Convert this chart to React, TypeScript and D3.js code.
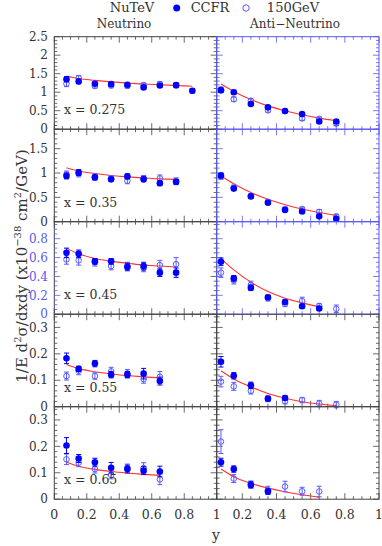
import * as d3 from 'd3';

// y bin centres (x axis of every panel)
const yBins = [0.075, 0.15, 0.25, 0.35, 0.45, 0.55, 0.65, 0.75, 0.85];
const xLabels = ['x = 0.275', 'x = 0.35', 'x = 0.45', 'x = 0.55', 'x = 0.65'];
const yMaxes = [2.5, 1.9, 0.98, 0.35, 0.35];
const yMajor = [0.5, 0.5, 0.2, 0.1, 0.1];
const yMinor = [0.1, 0.1, 0.05, 0.02, 0.02];
const xTickLabelsLeft = [0, 0.2, 0.4, 0.6, 0.8, 1];
const xTickLabelsRight = [0.2, 0.4, 0.6, 0.8, 1];

// neutrino: NuTeV (filled), CCFR 150GeV (open), fit (red)
const nuNutev = [
  [1.35, 1.29, 1.23, 1.22, 1.2, 1.13, 1.18, 1.19, 1.04],
  [0.94, 1.01, 0.91, 0.87, 0.93, 0.87, 0.79, 0.82],
  [0.65, 0.64, 0.56, 0.56, 0.5, 0.51, 0.44, 0.44],
  [0.183, 0.143, 0.163, 0.121, 0.121, 0.125, 0.097],
  [0.203, 0.154, 0.14, 0.119, 0.114, 0.108, 0.105],
];
const nuNutevErr = [
  [0.07, 0.06, 0.05, 0.05, 0.05, 0.05, 0.05, 0.05, 0.06],
  [0.06, 0.06, 0.05, 0.04, 0.05, 0.05, 0.05, 0.05],
  [0.05, 0.04, 0.03, 0.03, 0.04, 0.04, 0.04, 0.05],
  [0.02, 0.01, 0.012, 0.012, 0.012, 0.02, 0.015],
  [0.03, 0.015, 0.015, 0.02, 0.015, 0.015, 0.02],
];
const nuCcfr = [
  [1.23, 1.38, 1.17, 1.18, 1.17, 1.19, 1.22, 1.19],
  [0.97, 0.99, 0.92, 0.89, 0.84, 0.89, 0.89, 0.83],
  [0.58, 0.57, 0.55, 0.51, 0.51, 0.49, 0.52, 0.53],
  [0.116, 0.136, 0.116, 0.134, 0.126, 0.104, 0.113],
  [0.151, 0.138, 0.114, 0.092, 0.118, 0.118, 0.075],
];
const nuCcfrErr = [
  [0.08, 0.07, 0.06, 0.06, 0.06, 0.06, 0.07, 0.07],
  [0.07, 0.07, 0.06, 0.05, 0.06, 0.06, 0.07, 0.07],
  [0.05, 0.05, 0.04, 0.04, 0.04, 0.04, 0.05, 0.07],
  [0.015, 0.015, 0.012, 0.015, 0.015, 0.015, 0.02],
  [0.02, 0.015, 0.015, 0.015, 0.015, 0.02, 0.02],
];
const nuFit = [
  [1.44, 1.37, 1.32, 1.28, 1.25, 1.22, 1.2, 1.18, 1.16],
  [1.11, 1.04, 0.99, 0.95, 0.92, 0.9, 0.88, 0.87],
  [0.7, 0.64, 0.59, 0.56, 0.54, 0.52, 0.51, 0.5],
  [0.16, 0.144, 0.132, 0.124, 0.118, 0.113, 0.109],
  [0.14, 0.125, 0.113, 0.105, 0.099, 0.094, 0.09],
];

// anti-neutrino
const nubNutev = [
  [1.05, 1.0, 0.68, 0.59, 0.49, 0.41, 0.21, 0.21],
  [0.95, 0.68, 0.52, 0.39, 0.24, 0.21, 0.11, 0.06],
  [0.555, 0.38, 0.28, 0.18, 0.13, 0.085, 0.06],
  [0.17, 0.117, 0.081, 0.03, 0.033],
  [0.14, 0.114, 0.054, 0.029],
];
const nubNutevErr = [
  [0.06, 0.05, 0.04, 0.04, 0.04, 0.04, 0.04, 0.04],
  [0.05, 0.04, 0.03, 0.03, 0.03, 0.03, 0.03, 0.03],
  [0.04, 0.03, 0.03, 0.02, 0.02, 0.02, 0.02],
  [0.02, 0.012, 0.012, 0.008, 0.008],
  [0.015, 0.012, 0.012, 0.01],
];
const nubCcfr = [
  [1.07, 0.81, 0.77, 0.51, 0.49, 0.29, 0.28, 0.15],
  [0.93, 0.7, 0.53, 0.41, 0.26, 0.26, 0.2, 0.11],
  [0.44, 0.36, 0.31, 0.17, 0.11, 0.14, 0.085, 0.057],
  [0.095, 0.077, 0.06, 0.031, 0.021, 0.025, 0.012, 0.008],
  [0.218, 0.078, 0.057, 0.034, 0.048, 0.03, 0.029],
];
const nubCcfrErr = [
  [0.07, 0.06, 0.06, 0.05, 0.05, 0.05, 0.05, 0.05],
  [0.06, 0.05, 0.04, 0.04, 0.04, 0.04, 0.05, 0.04],
  [0.05, 0.04, 0.04, 0.03, 0.03, 0.04, 0.03, 0.04],
  [0.02, 0.015, 0.012, 0.012, 0.01, 0.01, 0.012, 0.012],
  [0.045, 0.015, 0.012, 0.015, 0.02, 0.015, 0.02],
];
const nubFit = [
  [1.22, 1.02, 0.8, 0.63, 0.5, 0.39, 0.3, 0.23],
  [0.94, 0.78, 0.6, 0.46, 0.35, 0.26, 0.19, 0.13],
  [0.59, 0.47, 0.34, 0.24, 0.17, 0.12, 0.08],
  [0.136, 0.105, 0.075, 0.05, 0.032, 0.019, 0.01, 0.004],
  [0.114, 0.085, 0.06, 0.042, 0.028, 0.017, 0.008],
];

const FONT = '"DejaVu Serif", serif';
const TEXT = '#333';
const FILLED = '#0000ff';
const OPEN = '#5a5aff';
const FIT = '#ff3333';

const X0 = 54.3;
const XM = 216.7;
const X1 = 379;
const TOP = 36.7;
const ROW_H = 92.5;

const pairs = (vals: number[]) => vals.map((v, i) => [yBins[i], v] as [number, number]);

function Panel({ row, side }: { row: number; side: 'nu' | 'nub' }) {
  const left = side === 'nu';
  const top = TOP + row * ROW_H;
  const bottom = top + ROW_H;
  const x = d3.scaleLinear().domain(left ? [0, 1] : [0.05, 1]).range(left ? [X0, XM] : [XM, X1]);
  const y = d3.scaleLinear().domain([0, yMaxes[row]]).range([bottom, top]);
  const [xa, xb] = x.range();
  const blueFrame = !left && row < 3;
  const frame = blueFrame ? '#5858f0' : '#444';
  const leftTicksCol = left && row === 2 ? '#5858f0' : frame;

  const inDom = (v: number, d: number[]) => v >= d[0] - 1e-9 && v <= d[1] + 1e-9;
  const xMaj = d3.range(0, 1.0001, 0.2).filter(v => inDom(v, x.domain()));
  const xMin = d3.range(0, 1.0001, 0.05).filter(v => inDom(v, x.domain()));
  const yMaj = d3.range(0, yMaxes[row] + 1e-9, yMajor[row]);
  const yMin = d3.range(0, yMaxes[row] + 1e-9, yMinor[row]);

  const nut = left ? nuNutev[row] : nubNutev[row];
  const nutE = left ? nuNutevErr[row] : nubNutevErr[row];
  const cc = left ? nuCcfr[row] : nubCcfr[row];
  const ccE = left ? nuCcfrErr[row] : nubCcfrErr[row];
  const fit = left ? nuFit[row] : nubFit[row];

  const line = d3.line<[number, number]>()
    .x(d => x(d[0]))
    .y(d => y(d[1]))
    .curve(d3.curveMonotoneX);

  const errBar = (vals: number[], errs: number[], col: string, key: string) =>
    vals.map((v, i) => {
      const cx = x(yBins[i]);
      return (
        <g key={key + i} stroke={col} strokeWidth={1}>
          <line x1={cx} x2={cx} y1={y(v - errs[i])} y2={y(v + errs[i])} />
          <line x1={cx - 2.5} x2={cx + 2.5} y1={y(v - errs[i])} y2={y(v - errs[i])} />
          <line x1={cx - 2.5} x2={cx + 2.5} y1={y(v + errs[i])} y2={y(v + errs[i])} />
        </g>
      );
    });

  return (
    <g>
      <rect x={xa} y={top} width={xb - xa} height={ROW_H} fill="none" stroke={frame} strokeWidth={1} />
      {xMin.map(v => {
        const len = xMaj.some(m => Math.abs(m - v) < 1e-6) ? 6 : 3;
        return (
          <g key={'xt' + v} stroke={frame} strokeWidth={0.8}>
            <line x1={x(v)} x2={x(v)} y1={bottom} y2={bottom - len} />
            <line x1={x(v)} x2={x(v)} y1={top} y2={top + len} />
          </g>
        );
      })}
      {yMin.map(v => {
        const len = yMaj.some(m => Math.abs(m - v) < 1e-6) ? 6 : 3;
        return (
          <g key={'yt' + v} strokeWidth={0.8}>
            <line x1={xa} x2={xa + len} y1={y(v)} y2={y(v)} stroke={leftTicksCol} />
            <line x1={xb} x2={xb - len} y1={y(v)} y2={y(v)} stroke={frame} />
          </g>
        );
      })}
      {left && yMaj.map(v => (
        <text key={'yl' + v} x={48} y={y(v)} dy="0.35em" textAnchor="end" fontSize={12}
          fontFamily={FONT} fill={row === 2 ? '#5a5aee' : TEXT}>
          {d3.format('~g')(+v.toFixed(2))}
        </text>
      ))}
      {row === 4 && (left ? xTickLabelsLeft : xTickLabelsRight).map(v => (
        <text key={'xl' + v} x={x(v)} y={519} textAnchor="middle" fontSize={12.5} fontFamily={FONT} fill={TEXT}>
          {d3.format('~g')(v)}
        </text>
      ))}
      <path d={line(pairs(fit)) || ''} fill="none" stroke={FIT} strokeWidth={1.1} />
      {errBar(cc, ccE, OPEN, 'ce')}
      {cc.map((v, i) => (
        <circle key={'cc' + i} cx={x(yBins[i])} cy={y(v)} r={2.8} fill="none" stroke={OPEN} strokeWidth={1} />
      ))}
      {errBar(nut, nutE, FILLED, 'ne')}
      {nut.map((v, i) => (
        <circle key={'nt' + i} cx={x(yBins[i])} cy={y(v)} r={3.3} fill={FILLED} />
      ))}
      {left && (
        <text x={64} y={bottom - 15} fontSize={12.5} fontFamily={FONT} fill={TEXT}>{xLabels[row]}</text>
      )}
    </g>
  );
}

export default function App() {
  return (
    <svg width={382} height={546} style={{ position: 'absolute', left: 0, top: 0, background: '#fff' }}>
      {/* legend */}
      <g fontFamily={FONT} fontSize={13} fill={TEXT}>
        <text x={132} y={12} textAnchor="middle">NuTeV</text>
        <circle cx={176.7} cy={8} r={3.5} fill={FILLED} />
        <text x={210} y={12} textAnchor="middle">CCFR</text>
        <circle cx={246} cy={8} r={3.2} fill="none" stroke={OPEN} />
        <text x={293} y={12} textAnchor="middle">150GeV</text>
        <text x={124} y={28} fontSize={12} textAnchor="middle">Neutrino</text>
        <text x={295} y={28} fontSize={12} textAnchor="middle">Anti−Neutrino</text>
      </g>
      {yMaxes.map((_, r) => (
        <g key={r}>
          <Panel row={r} side="nu" />
          <Panel row={r} side="nub" />
        </g>
      ))}
      <text x={216} y={540} textAnchor="middle" fontFamily={FONT} fontSize={14} fill={TEXT}>y</text>
      <text transform="translate(27,266) rotate(-90)" textAnchor="middle" fontFamily={FONT} fontSize={15} fill={TEXT}>
        1/E d<tspan dy={-6} fontSize={10}>2</tspan><tspan dy={6}>σ/dxdy (x10</tspan>
        <tspan dy={-6} fontSize={10}>−38</tspan><tspan dy={6}> cm</tspan>
        <tspan dy={-6} fontSize={10}>2</tspan><tspan dy={6}>/GeV)</tspan>
      </text>
    </svg>
  );
}
